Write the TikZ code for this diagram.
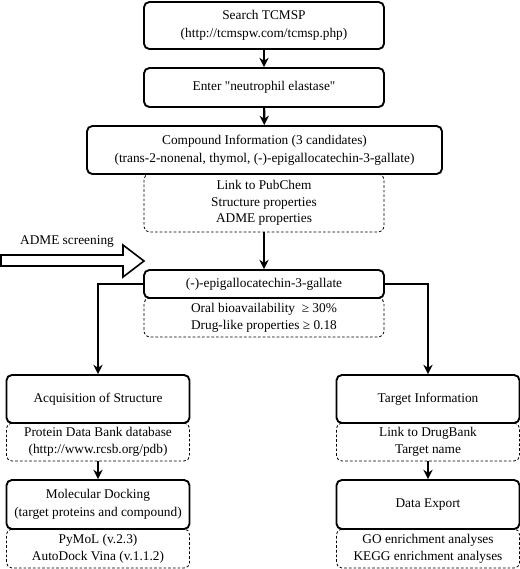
\documentclass[tikz,border=0pt]{standalone}
\usepackage{fontspec}
\setmainfont{Liberation Serif}
\newfontfamily\droit{Liberation Serif}
\usetikzlibrary{arrows.meta}
\begin{document}
\begin{tikzpicture}[x=0.75pt,y=-0.75pt]
\tikzstyle{boite}=[draw, line width=1.4pt, rounded corners=4pt, fill=white, align=center, font=\fontsize{10}{13.5}\selectfont];
\tikzstyle{pointille}=[draw, line width=0.6pt, dash pattern=on 2pt off 1.5pt, rounded corners=4pt, align=center, font=\fontsize{10}{12.5}\selectfont];
\tikzstyle{fleche}=[line width=1.6pt, -{Stealth[length=7pt,width=7pt]}];
\useasboundingbox (0,0) rectangle (520,569);

% boites en pointille (dessinees d'abord)
\node[pointille, minimum width=180pt, minimum height=43.5pt] (pubchem) at (264,203) {Link to PubChem\\Structure properties\\ADME properties};
\node[pointille, minimum width=180pt, minimum height=29.25pt] (criteres) at (264,317.5) {Oral bioavailability \ ≥ 30\%\\Drug-like properties ≥ 0.18};
\node[pointille, minimum width=137.25pt, minimum height=28.5pt] (pdb) at (98,442) {Protein Data Bank database\\(http://www.rcsb.org/pdb)};
\node[pointille, minimum width=137.25pt, minimum height=29.25pt] (logiciels) at (98,548.5) {PyMoL (v.2.3)\\AutoDock Vina (v.1.1.2)};
\node[pointille, minimum width=137.25pt, minimum height=28.5pt] (drugbank) at (428,442) {Link to DrugBank\\Target name};
\node[pointille, minimum width=137.25pt, minimum height=29.25pt] (analyses) at (428,548.5) {GO enrichment analyses\\KEGG enrichment analyses};

% boites pleines
\node[boite, minimum width=180pt, minimum height=35.25pt] (tcmsp) at (264,25.5) {Search TCMSP\\(http://tcmspw.com/tcmsp.php)};
\node[boite, minimum width=180pt, minimum height=29.25pt] (entree) at (264,87.5) {Enter {\droit"}neutrophil elastase{\droit"}};
\node[boite, minimum width=266.25pt, minimum height=36pt] (composes) at (264.5,150) {Compound Information (3 candidates)\\(trans-2-nonenal, thymol, (-)-epigallocatechin-3-gallate)};
\node[boite, minimum width=180pt, minimum height=21pt] (egcg) at (264,284) {(-)-epigallocatechin-3-gallate};
\node[boite, minimum width=137.25pt, minimum height=36pt] (structure) at (98,399) {Acquisition of Structure};
\node[boite, minimum width=137.25pt, minimum height=36.75pt] (docking) at (98,504.5) {Molecular Docking\\(target proteins and compound)};
\node[boite, minimum width=137.25pt, minimum height=36pt] (cible) at (428,399) {Target Information};
\node[boite, minimum width=137.25pt, minimum height=36.75pt] (export) at (428,504.5) {Data Export};

% criblage ADME
\draw[line width=1.2pt] (1,255) -- (123,255) -- (123,245) -- (144,261) -- (123,277) -- (123,266) -- (1,266) -- cycle;
\node[font=\fontsize{10}{12}\selectfont] (criblage) at (67,242) {ADME screening};

\draw[fleche] (tcmsp) -- (entree);
\draw[fleche] (entree) -- (composes);
\draw[fleche] (pubchem) -- (egcg);
\draw[fleche] (egcg.west) -| (structure.north);
\draw[fleche] (egcg.east) -| (cible.north);
\draw[fleche] (pdb) -- (docking);
\draw[fleche] (drugbank) -- (export);
\end{tikzpicture}
\end{document}
